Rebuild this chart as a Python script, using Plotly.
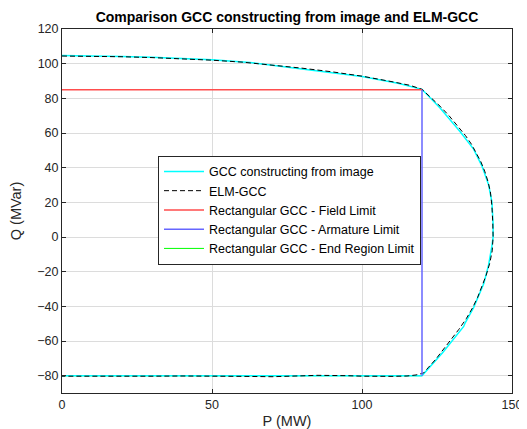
import plotly.graph_objects as go

# GCC constructing from image (cyan)
gcc_P = [0, 10, 20, 30, 40, 50, 62.7, 73.8, 84.9, 100, 112, 120,
         126.1, 132.8, 137.2, 140.0, 142.2, 143.3, 143.7, 143.7, 143.3, 142.2, 140.6, 137.2, 134.4, 133.9, 127.0, 120,
         100, 50, 0]
gcc_Q = [104.7, 104.6, 104.2, 103.7, 103.0, 102.2, 100.7, 98.4, 96.1, 92.6, 88.7, 85.2,
         74.3, 60.6, 50.7, 40.9, 30.1, 20.3, 7.5, 0.0, -5.3, -16.1, -26.9, -40.7, -49.5, -51.6, -66.5, -80.0,
         -80.0, -80.0, -80.0]

# ELM-GCC (black dashed)
elm_P = [0, 10, 20, 30, 40, 50, 60, 70, 80, 90, 100, 110, 116, 120,
         123, 126, 129, 132, 134.5, 136.5, 138.3, 139.6, 140.9, 142.0, 142.8, 143.3, 143.6, 143.7,
         143.4, 142.6, 141.4, 139.9, 138.5, 136.8, 134.8, 132.2, 129.6, 127, 124.6, 122, 120.5, 118,
         115, 110, 105, 100, 95, 90, 85, 80, 75, 70, 60, 50, 40, 30, 20, 10, 0]
elm_Q = [104.4, 104.3, 104.0, 103.5, 102.8, 102.0, 100.9, 99.3, 97.4, 95.3, 92.8, 89.6, 87.5, 85.2,
         80.5, 75.5, 70.0, 64.0, 58.5, 53.5, 48.0, 43.5, 38.0, 32.0, 26.0, 18.0, 8.0, 0.0,
         -8.0, -15.0, -22.0, -29.0, -35.0, -41.0, -47.0, -53.5, -59.5, -65.0, -70.5, -75.5, -78.5, -79.6,
         -80.2, -80.4, -80.5, -80.3, -80.0, -79.7, -79.8, -80.1, -80.5, -80.6, -80.4, -80.2, -80.2, -80.3, -80.4, -80.4, -80.3]

# Rectangular GCC limits
field_P = [0, 120]
field_Q = [85, 85]
armature_P = [120, 120]
armature_Q = [85, -80]
endregion_P = [0, 120]
endregion_Q = [-80, -80]

fig = go.Figure()
fig.add_trace(go.Scatter(x=endregion_P, y=endregion_Q, mode="lines", name="Rectangular GCC - End Region Limit",
                         line=dict(color="#00ff00", width=1), legendrank=5))
fig.add_trace(go.Scatter(x=gcc_P, y=gcc_Q, mode="lines", name="GCC constructing from image",
                         line=dict(color="#00ffff", width=1.5), legendrank=1))
fig.add_trace(go.Scatter(x=elm_P, y=elm_Q, mode="lines", name="ELM-GCC",
                         line=dict(color="#000000", width=1, dash="5px,3px"), legendrank=2))
fig.add_trace(go.Scatter(x=field_P, y=field_Q, mode="lines", name="Rectangular GCC - Field Limit",
                         line=dict(color="#ff4d4d", width=1.5), legendrank=3))
fig.add_trace(go.Scatter(x=armature_P, y=armature_Q, mode="lines", name="Rectangular GCC - Armature Limit",
                         line=dict(color="#6666ff", width=1.5), legendrank=4))

axis_common = dict(showgrid=True, gridcolor="#dcdcdc", gridwidth=1, zeroline=False,
                   showline=True, linecolor="#262626", linewidth=1, mirror="ticks",
                   ticks="inside", ticklen=4, tickcolor="#262626", automargin=False,
                   tickfont=dict(family="Liberation Sans, Arial", size=12.5, color="#262626"))

W, H = 519, 421  # page has an 8px body margin inside the 527x429 window
fig.update_layout(
    width=W, height=H,
    margin=dict(l=54, r=15, t=21, b=36, autoexpand=False),
    paper_bgcolor="white", plot_bgcolor="white",
    font=dict(family="Liberation Sans, Arial", color="#262626"),
    title=dict(text="<b>Comparison GCC constructing from image and ELM-GCC</b>",
               x=0.5, xref="paper", xanchor="center", y=1 - 9 / H, yref="container", yanchor="middle",
               automargin=False,
               font=dict(family="Liberation Sans, Arial", size=14, color="#000000")),
    xaxis=dict(range=[0, 150], tick0=0, dtick=50,
               title=dict(text="P (MW)", font=dict(size=14.5, color="#262626"), standoff=4),
               **axis_common),
    yaxis=dict(range=[-90, 120], tick0=0, dtick=20,
               title=dict(text="Q (MVar)", font=dict(size=14.5, color="#262626"), standoff=14),
               **axis_common),
    showlegend=True,
    legend=dict(x=(158 - 62) / 450, y=(385 - 153) / 356, xanchor="left", yanchor="top",
                bgcolor="white", bordercolor="#262626", borderwidth=1,
                font=dict(family="Liberation Sans, Arial", size=12.5, color="#000000"),
                itemwidth=40, tracegroupgap=0),
)

fig.write_html("out.html")
